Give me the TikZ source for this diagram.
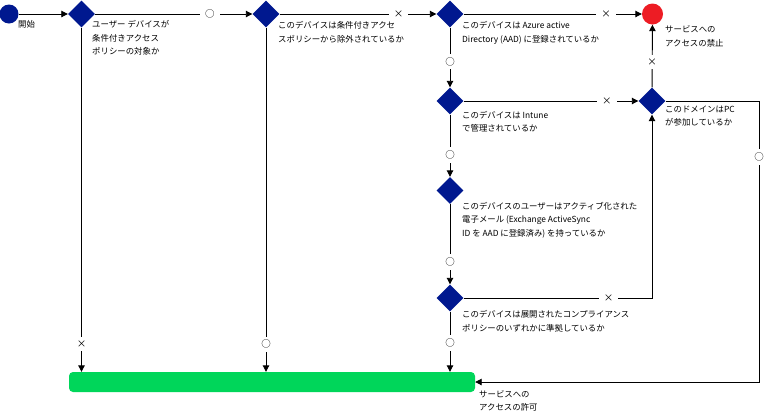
\documentclass[tikz,border=0pt]{standalone}
\usepackage{fontspec}
\setmainfont{Noto Sans CJK JP}
\usetikzlibrary{shapes.geometric,arrows.meta}

\definecolor{navy}{RGB}{0,24,143}
\definecolor{stopred}{RGB}{237,28,36}
\definecolor{okgreen}{RGB}{0,214,90}

\tikzset{
    dec/.style={diamond, fill=navy, minimum size=27pt, inner sep=0pt},
    flow/.style={line width=0.9pt, -{Triangle[length=6.5pt,width=6.5pt]}},
    yn/.style={fill=white, inner xsep=5pt, inner ysep=3.5pt, font=\fontsize{9.5}{10}\selectfont},
    txt/.style={align=left, inner sep=0pt, anchor=north west, font=\fontsize{8.4}{13.5}\selectfont}
}

\begin{document}
\begin{tikzpicture}[x=1pt,y=-1pt]
    \useasboundingbox (0,0) rectangle (771,416);

    % Inizio e fine
    \node[circle, fill=navy, minimum size=19pt, inner sep=0pt] (start) at (9,14) {};
    \node[circle, fill=stopred, minimum size=21pt, inner sep=0pt] (deny) at (652.5,14) {};
    \node[rounded corners=4pt, fill=okgreen, minimum width=406pt, minimum height=20pt, inner sep=0pt] (grant) at (272,382) {};

    % Decisioni
    \node[dec] (target) at (81.5,14) {};
    \node[dec] (excl) at (266,14) {};
    \node[dec] (aad) at (450,14) {};
    \node[dec] (intune) at (450,101) {};
    \node[dec] (domain) at (652,101) {};
    \node[dec] (eas) at (450,190.5) {};
    \node[dec] (comply) at (450,298) {};
    \coordinate (loop) at (759,101);

    % Testi
    \node[txt] (tstart) at (18,20.5) {開始};
    \node[txt] (ttarget) at (92,20.5) {ユーザー デバイスが\\条件付きアクセス\\ポリシーの対象か};
    \node[txt] (texcl) at (278,21.5) {このデバイスは条件付きアクセ\\スポリシーから除外されているか};
    \node[txt] (taad) at (462,21.5) {このデバイスは Azure active\\Directory (AAD) に登録されているか};
    \node[txt] (tdeny) at (665,25.5) {サービスへの\\アクセスの禁止};
    \node[txt] (tintune) at (462,111) {このデバイスは Intune\\で管理されているか};
    \node[txt] (tdomain) at (665,105.5) {このドメインはPC\\が参加しているか};
    \node[txt] (teas) at (462,202) {このデバイスのユーザーはアクティブ化された\\電子メール (Exchange ActiveSync\\ID を AAD に登録済み) を持っているか};
    \node[txt] (tcomply) at (462,310.5) {このデバイスは展開されたコンプライアンス\\ポリシーのいずれかに準拠しているか};
    \node[txt, font=\fontsize{8.4}{12.5}\selectfont] (tgrant) at (479,390.5) {サービスへの\\アクセスの許可};

    % Collegamenti
    \draw[flow] (start) -- (target);
    \draw[flow] (target) -- node[yn, pos=.73] {○} (excl);
    \draw[flow] (excl) -- node[yn, pos=.76] {×} (aad);
    \draw[flow] (aad) -- node[yn, pos=.8] {×} (deny);
    \draw[flow] (aad) -- node[yn, pos=.57] {○} (intune);
    \draw[flow] (intune) -- node[yn, pos=.82] {×} (domain);
    \draw[flow] (intune) -- node[yn, pos=.65] {○} (eas);
    \draw[flow] (eas) -- node[yn, pos=.72] {○} (comply);
    \draw[flow] (domain) -- node[yn, pos=.4] {×} (deny);
    \draw[flow] (comply) -- node[yn, pos=.77] {×} (comply -| domain) -- (domain);
    \draw[flow] (target) -- node[yn, pos=.92] {×} (target |- grant.north);
    \draw[flow] (excl) -- node[yn, pos=.92] {○} (excl |- grant.north);
    \draw[flow] (comply) -- node[yn, pos=.52] {○} (comply |- grant.north);
    \draw[flow] (domain) -- (loop) -- node[yn, pos=.2] {○} (loop |- grant) -- (grant.east);
\end{tikzpicture}
\end{document}
